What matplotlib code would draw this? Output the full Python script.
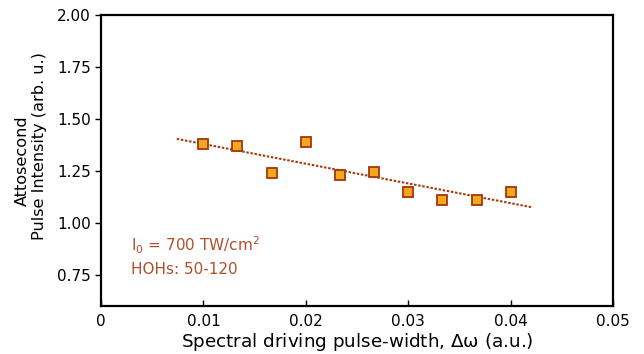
import matplotlib
matplotlib.use("Agg")
import matplotlib.pyplot as plt
import numpy as np

# data
pulse_width = [0.01, 0.01333, 0.01667, 0.02, 0.02333, 0.02667, 0.03, 0.03333, 0.03667, 0.04]
intensity = [1.378, 1.370, 1.240, 1.388, 1.229, 1.246, 1.150, 1.110, 1.110, 1.150]
fit_range = [0.0074, 0.0421]
x_ticks = [0, 0.01, 0.02, 0.03, 0.04, 0.05]
x_tick_labels = ["0", "0.01", "0.02", "0.03", "0.04", "0.05"]
y_ticks = [0.75, 1.00, 1.25, 1.50, 1.75, 2.00]

plt.rcParams["font.family"] = ["DejaVu Sans"]
plt.rcParams["mathtext.fontset"] = "dejavuserif"
plt.rcParams["mathtext.default"] = "regular"

fig = plt.figure(figsize=(6.44, 3.54), dpi=100)
ax = fig.add_axes([0.1568, 0.1356, 0.7951, 0.822])

# linear trend line
coef = np.polyfit(pulse_width, intensity, 1)
fx = np.array(fit_range)
ax.plot(fx, np.polyval(coef, fx), linestyle=(0, (1.2, 0.8)), color="#a0400f", linewidth=1.5, zorder=2)

ax.plot(pulse_width, intensity, linestyle="none", marker="s", markersize=6.5,
        markerfacecolor="#f2a81c", markeredgecolor="#a3360e", markeredgewidth=1.3, zorder=3)

ax.text(0.0029, 0.865, r"I$_0$ = 700 TW/cm$^2$", color="#b0502a", fontsize=11, va="baseline")
ax.text(0.0029, 0.754, "HOHs: 50-120", color="#b0502a", fontsize=11, va="baseline")

ax.set_xlim(0, 0.05)
ax.set_ylim(0.6, 2.0)
ax.set_xticks(x_ticks)
ax.set_xticklabels(x_tick_labels)
ax.set_yticks(y_ticks)
ax.set_yticklabels([f"{v:.2f}" for v in y_ticks])

ax.tick_params(axis="x", direction="in", length=4, width=1, labelsize=11, pad=6)
ax.tick_params(axis="y", direction="out", length=4, width=1, labelsize=11)
for s in ax.spines.values():
    s.set_linewidth(1.6)

ax.set_xlabel(r"Spectral driving pulse-width, $\Delta\omega$ (a.u.)", fontsize=13.2, labelpad=1)
# y label: two lines, placed separately (they are not centred on each other)
fig.text(0.0342, 0.5452, "Attosecond", rotation=90, fontsize=11.6, ha="center", va="center")
fig.text(0.0606, 0.5876, "Pulse Intensity (arb. u.)", rotation=90, fontsize=11.6, ha="center", va="center")

fig.savefig("out.png", dpi=100)
